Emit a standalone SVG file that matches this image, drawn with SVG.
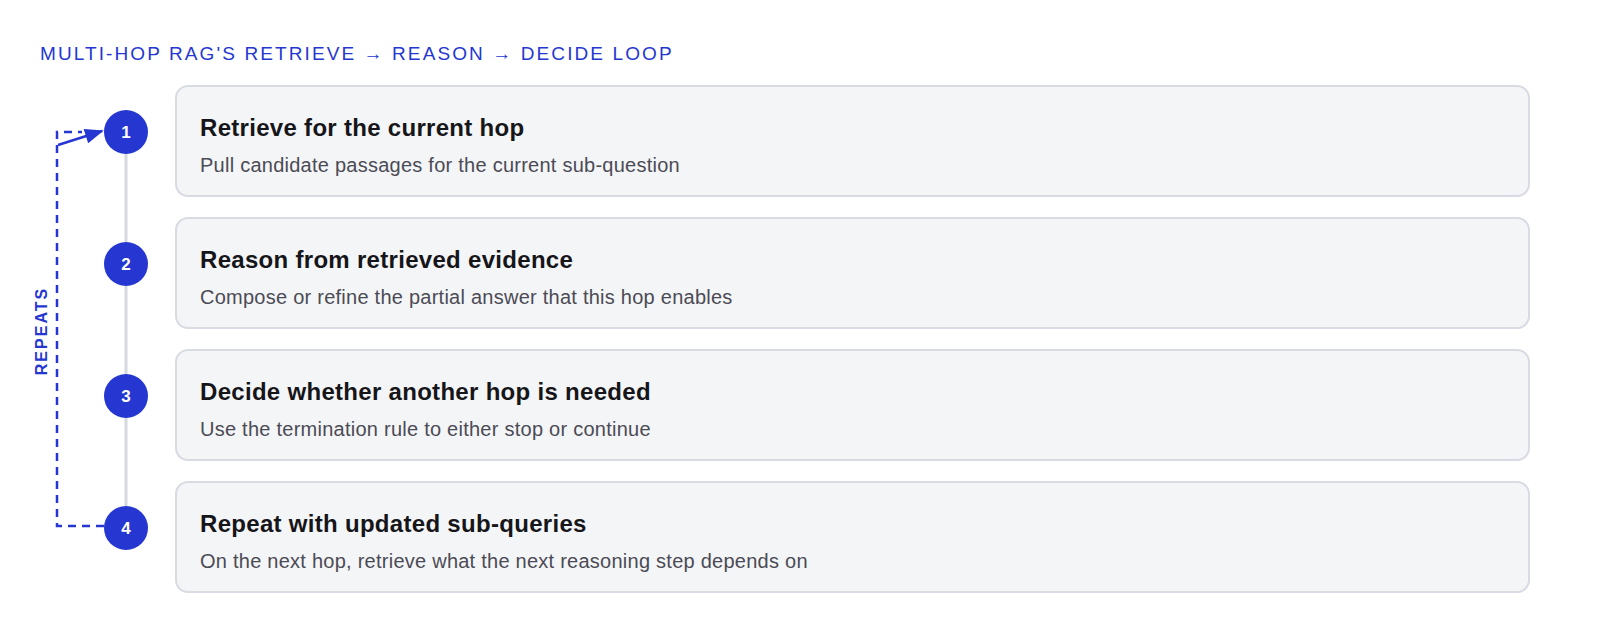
<svg xmlns="http://www.w3.org/2000/svg" width="1600" height="644" viewBox="0 0 1600 644">
<defs>
<style>
.card{fill:#f4f5f7;stroke:#d9dbe3;stroke-width:2}
.dot{fill:#2537d0}
.num{font-family:"Liberation Sans",Arial,sans-serif;font-weight:700;font-size:17px;fill:#fff;text-anchor:middle}
.t{font-family:"Liberation Sans",Arial,sans-serif;font-weight:700;font-size:24px;letter-spacing:0.3px;fill:#16161a}
.s{font-family:"Liberation Sans",Arial,sans-serif;font-size:20px;letter-spacing:0.25px;fill:#4b4b55}
.rail{stroke:#d6d8df;stroke-width:3}
.loop{fill:none;stroke:#2537d0;stroke-width:2.5;stroke-dasharray:8 6}
</style>
<marker id="ah" viewBox="0 0 10 8" refX="9" refY="4" markerWidth="8" markerHeight="6" orient="auto" markerUnits="strokeWidth">
<path d="M0,0 L10,4 L0,8 z" fill="#2537d0"/>
</marker>
</defs>
<rect width="1600" height="644" fill="#fff"/>
<text x="40" y="60" font-family="Liberation Sans,Arial,sans-serif" font-size="19" letter-spacing="2.1" fill="#2537d0">MULTI-HOP RAG'S RETRIEVE → REASON → DECIDE LOOP</text>
<g id="connectors">
<line class="rail" x1="126" y1="154" x2="126" y2="242"/>
<line class="rail" x1="126" y1="286" x2="126" y2="374"/>
<line class="rail" x1="126" y1="418" x2="126" y2="506"/>
<path class="loop" d="M104,526 H57 V132 H82"/>
<line x1="58" y1="145" x2="102" y2="131" stroke="#2537d0" stroke-width="2.5" marker-end="url(#ah)"/>
<text transform="translate(47,331) rotate(-90)" text-anchor="middle" font-family="Liberation Sans,Arial,sans-serif" font-weight="700" font-size="16" letter-spacing="2" fill="#2537d0">REPEATS</text>
</g>
<g id="step1">
<rect class="card" x="176" y="86" width="1353" height="110" rx="12"/>
<circle class="dot" cx="126" cy="132" r="22"/>
<text class="num" x="126" y="138">1</text>
<text class="t" x="200" y="136">Retrieve for the current hop</text>
<text class="s" x="200" y="172">Pull candidate passages for the current sub-question</text>
</g>
<g id="step2">
<rect class="card" x="176" y="218" width="1353" height="110" rx="12"/>
<circle class="dot" cx="126" cy="264" r="22"/>
<text class="num" x="126" y="270">2</text>
<text class="t" x="200" y="268">Reason from retrieved evidence</text>
<text class="s" x="200" y="304">Compose or refine the partial answer that this hop enables</text>
</g>
<g id="step3">
<rect class="card" x="176" y="350" width="1353" height="110" rx="12"/>
<circle class="dot" cx="126" cy="396" r="22"/>
<text class="num" x="126" y="402">3</text>
<text class="t" x="200" y="400">Decide whether another hop is needed</text>
<text class="s" x="200" y="436">Use the termination rule to either stop or continue</text>
</g>
<g id="step4">
<rect class="card" x="176" y="482" width="1353" height="110" rx="12"/>
<circle class="dot" cx="126" cy="528" r="22"/>
<text class="num" x="126" y="534">4</text>
<text class="t" x="200" y="532">Repeat with updated sub-queries</text>
<text class="s" x="200" y="568">On the next hop, retrieve what the next reasoning step depends on</text>
</g>
</svg>
